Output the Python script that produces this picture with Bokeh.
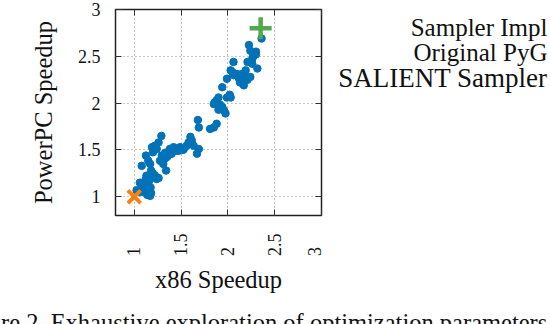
import math
from bokeh.plotting import figure
from bokeh.layouts import row, column
from bokeh.models import LinearAxis, FixedTicker, Range1d, ColumnDataSource
from bokeh.core.properties import value
from bokeh.embed import file_html
from bokeh.resources import INLINE

# ---- data ----
x86 = [1.025, 1.06, 1.08, 1.115, 1.10, 1.17, 1.175, 1.13, 1.19, 1.20, 1.24, 1.16,
       1.125, 1.15, 1.17, 1.19, 1.20, 1.22, 1.24, 1.26, 1.29, 1.275, 1.295, 1.31,
       1.34, 1.35, 1.365, 1.38, 1.42, 1.40, 1.45, 1.47, 1.49, 1.53, 1.56, 1.58,
       1.60, 1.615, 1.635, 1.69, 1.67, 1.69, 1.68, 1.81, 1.85, 1.88, 1.85, 1.88,
       1.90, 1.94, 1.96, 1.975, 1.99, 2.03, 1.94, 1.99, 2.03, 2.06, 2.06, 2.10,
       2.12, 2.15, 2.17, 2.19, 2.21, 2.225, 2.24, 2.28, 2.30, 2.26, 2.315, 2.36,
       2.19, 2.15,
       1.05, 1.08, 1.12, 1.14, 1.18, 1.12, 1.16, 1.22, 1.26, 1.18,
       1.32, 1.30, 1.33, 1.38, 1.43, 1.48, 1.52,
       2.02, 2.05, 2.17, 2.21, 2.24, 2.27, 2.30, 2.26, 2.13,
       1.86, 1.92, 1.90]
ppc = [1.07, 1.15, 1.33, 1.12, 1.05, 1.01, 1.10, 1.225, 1.26, 1.21, 1.19, 1.17,
       1.44, 1.385, 1.35, 1.53, 1.475, 1.545, 1.51, 1.58, 1.65, 1.385, 1.44, 1.35,
       1.28, 1.425, 1.475, 1.51, 1.53, 1.46, 1.51, 1.49, 1.53, 1.51, 1.545, 1.58,
       1.64, 1.60, 1.545, 1.51, 1.46, 1.74, 1.82, 1.725, 1.74, 1.78, 1.99, 2.03,
       2.06, 1.96, 1.92, 1.89, 2.06, 2.06, 2.17, 2.26, 2.35, 2.44, 2.30, 2.31,
       2.26, 2.225, 2.19, 2.30, 2.44, 2.62, 2.56, 2.53, 2.55, 2.47, 2.37, 2.69,
       2.35, 2.31,
       1.05, 1.10, 1.08, 1.02, 1.04, 1.18, 1.22, 1.23, 1.20, 1.28,
       1.40, 1.38, 1.47, 1.46, 1.49, 1.52, 1.50,
       2.09, 2.33, 2.27, 2.25, 2.28, 2.50, 2.52, 2.42, 2.22,
       2.01, 1.98, 1.93]
orig_x = [1.0]
orig_y = [1.0]
salient_x = [2.35]
salient_y = [2.8]

x_ticks = [1, 1.5, 2, 2.5, 3]
x_tick_labels = ["1", "1.5", "2", "2.5", "3"]
y_ticks = [1, 1.5, 2, 2.5, 3]
y_tick_labels = ["1", "1.5", "2", "2.5", "3"]

x_title = "x86 Speedup"
y_title = "PowerPC Speedup"
legend_title = "Sampler Impl"
legend_labels = ["Original PyG", "SALIENT Sampler"]
caption = "re 2. Exhaustive exploration of optimization parameters."

# ---- style ----
FONT = "Liberation Serif"
BLUE = "#0072b8"
ORANGE = "#ff7f0e"
GREEN = "#52a84a"
INK = "#111111"

W, H = 550, 324
W1, H1 = 324, 300            # main plot panel
FL, FR, FT, FB = 115, 321, 9, 215

p = figure(width=W1, height=H1,
           x_range=Range1d(0.8, 3.0), y_range=Range1d(0.8, 3.0),
           output_backend="svg", toolbar_location=None,
           min_border_left=FL, min_border_right=W1 - FR,
           min_border_top=FT, min_border_bottom=H1 - FB)
p.background_fill_color = "white"
p.border_fill_color = "white"
p.outline_line_color = "#222222"
p.outline_line_width = 1.5

for g, t in ((p.xgrid, x_ticks), (p.ygrid, y_ticks)):
    g.ticker = FixedTicker(ticks=t)
    g.grid_line_color = "#8a8a8a"
    g.grid_line_dash = "1 3"
    g.grid_line_width = 1

def style_ticks(ax, ticks):
    ax.ticker = FixedTicker(ticks=ticks)
    ax.major_tick_in = 6
    ax.major_tick_out = 0
    ax.minor_tick_line_color = None
    ax.axis_line_color = None
    ax.major_tick_line_color = "#333333"

# left axis
ya = p.yaxis[0]
style_ticks(ya, y_ticks)
ya.major_label_overrides = {t: l for t, l in zip(y_ticks, y_tick_labels)}
ya.major_label_standoff = 15
ya.major_label_text_font = FONT
ya.major_label_text_font_size = "18px"
ya.major_label_text_color = INK
ya.axis_label = y_title
ya.axis_label_text_font = FONT
ya.axis_label_text_font_size = "24.5px"
ya.axis_label_text_font_style = "normal"
ya.axis_label_text_color = INK
ya.axis_label_standoff = 18

# bottom axis: rotated labels; short ones padded (punctuation + figure space)
# so that every label starts at the same height, as in the reference
pad = "\u2008\u2007"
xa = p.xaxis[0]
style_ticks(xa, x_ticks)
xa.major_label_overrides = {t: (l if len(l) > 1 else l + pad)
                            for t, l in zip(x_ticks, x_tick_labels)}
xa.major_label_orientation = math.pi / 2
xa.major_label_standoff = 18
xa.major_label_text_font = FONT
xa.major_label_text_font_size = "18px"
xa.major_label_text_color = INK
xa.axis_label = x_title
xa.axis_label_text_font = FONT
xa.axis_label_text_font_size = "24.5px"
xa.axis_label_text_font_style = "normal"
xa.axis_label_text_color = INK
xa.axis_label_standoff = 7

# mirrored ticks on top and right
top = LinearAxis(major_label_standoff=0)
style_ticks(top, x_ticks)
top.major_label_overrides = {t: "" for t in x_ticks}
p.add_layout(top, "above")
right = LinearAxis(major_label_standoff=0)
style_ticks(right, y_ticks)
right.major_label_overrides = {t: "" for t in y_ticks}
p.add_layout(right, "right")

# data
p.scatter(x86, ppc, size=7.5, color=BLUE)
p.scatter(orig_x, orig_y, marker="x", size=18, line_color=ORANGE, line_width=4)
p.scatter(salient_x, salient_y, marker="cross", size=22, line_color=GREEN, line_width=4.5)

# ---- legend text panel (its markers fall off the page in the reference) ----
# its frame is aligned with the main frame (rows share top/bottom borders), so the
# ranges are set in page pixels
side = figure(width=W - W1, height=H1,
              x_range=Range1d(W1, W), y_range=Range1d(FB, FT),
              x_axis_type=None, y_axis_type=None,
              min_border_left=0, min_border_right=0,
              min_border_top=FT, min_border_bottom=H1 - FB,
              output_backend="svg", toolbar_location=None)
side.outline_line_color = None
side.background_fill_color = "white"
side.border_fill_color = "white"
leg = ColumnDataSource(dict(
    x=[W - 3] * 3,
    y=[27, 52, 77],
    text=[legend_title] + legend_labels,
    size=["25px", "25px", "27px"]))
side.text(x="x", y="y", text="text", source=leg, text_align="right",
          text_baseline="alphabetic", text_font=value(FONT),
          text_font_size="size", text_color=INK)

# ---- caption panel ----
cap = figure(width=W, height=H - H1, x_range=Range1d(0, W), y_range=Range1d(0, H - H1),
             x_axis_type=None, y_axis_type=None, min_border=0,
             output_backend="svg", toolbar_location=None)
cap.outline_line_color = None
cap.background_fill_color = "white"
cap.border_fill_color = "white"
cap.text(x=[0.5], y=[2], text=[caption], text_align="left", text_baseline="alphabetic",
         text_font=value(FONT), text_font_size="24.5px", text_color=INK)

layout = column(row(p, side, spacing=0), cap, spacing=0)
open("out.html", "w").write(file_html(layout, INLINE))
